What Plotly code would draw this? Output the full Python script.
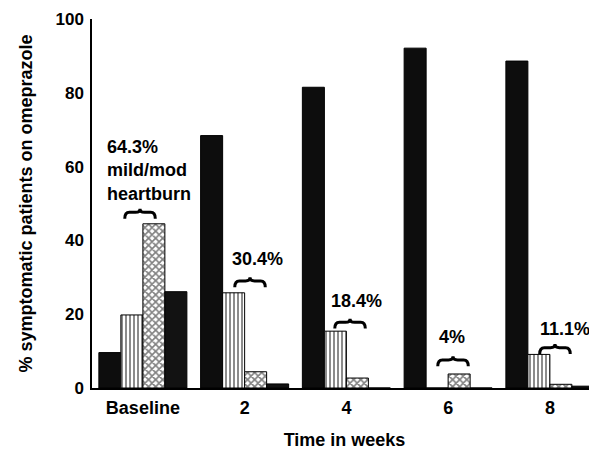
import plotly.graph_objects as go

# ---- data ----
categories = ["Baseline", "2", "4", "6", "8"]
no_heartburn = [9.6, 68.4, 81.5, 92.1, 88.6]
mild = [19.8, 25.8, 15.4, 0.0, 9.1]
moderate = [44.5, 4.4, 2.7, 3.8, 1.0]
severe = [26.1, 1.1, 0.0, 0.0, 0.5]
group_labels = ["64.3%<br>mild/mod<br>heartburn", "30.4%", "18.4%", "4%", "11.1%"]

x_pos = list(range(len(categories)))

FONT = "Liberation Sans, Arial, sans-serif"

fig = go.Figure()
fig.add_trace(go.Bar(x=x_pos, y=no_heartburn, name="none",
                     marker=dict(color="#0d0d0d", line=dict(color="black", width=1))))
fig.add_trace(go.Bar(x=x_pos, y=mild, name="mild",
                     marker=dict(color="white", line=dict(color="black", width=1),
                                 pattern=dict(shape="|", fgcolor="black", bgcolor="white",
                                              size=4, solidity=0.45))))
fig.add_trace(go.Bar(x=x_pos, y=moderate, name="moderate",
                     marker=dict(color="white", line=dict(color="black", width=1),
                                 pattern=dict(shape="x", fgcolor="black", bgcolor="white",
                                              size=5, solidity=0.55))))
fig.add_trace(go.Bar(x=x_pos, y=severe, name="severe",
                     marker=dict(color="#121212", line=dict(color="black", width=1))))

# ---- annotation styling (label placement) ----
label_style = [
    dict(x=-0.372, y=59.0, xanchor="left", align="left"),
    dict(x=1.122, y=35.0, xanchor="center", align="center"),
    dict(x=2.104, y=23.6, xanchor="center", align="center"),
    dict(x=3.038, y=13.9, xanchor="center", align="center"),
    dict(x=4.414, y=16.0, xanchor="right", align="right"),
]
brace_style = [(-0.028, 47.6), (1.053, 29.0), (2.036, 17.8), (3.048, 7.6), (4.05, 10.9)]

for txt, st in zip(group_labels, label_style):
    fig.add_annotation(text=txt, x=st["x"], y=st["y"], xref="x", yref="y",
                       xanchor=st["xanchor"], yanchor="middle", align=st["align"],
                       showarrow=False,
                       font=dict(family=FONT, size=18, color="black", weight="bold"))

bw = 0.30   # brace width (x units)
bh = 1.7    # brace end drop (y units)
bp = 1.0    # brace centre peak (y units)
r = 0.045
for xc, yb in brace_style:
    x0, x1 = xc - bw / 2, xc + bw / 2
    path = (f"M {x0},{yb - bh} Q {x0},{yb} {x0 + r},{yb} L {xc - r},{yb} "
            f"Q {xc},{yb} {xc},{yb + bp} Q {xc},{yb} {xc + r},{yb} "
            f"L {x1 - r},{yb} Q {x1},{yb} {x1},{yb - bh}")
    fig.add_shape(type="path", path=path, xref="x", yref="y",
                  line=dict(color="black", width=3))

# the page body has an 8px margin, so the figure is 8px smaller than the window
fig.update_layout(
    width=589, height=442,
    margin=dict(l=84, r=0, t=11, b=62, autoexpand=False),
    paper_bgcolor="white", plot_bgcolor="white",
    barmode="group", bargap=0.135, bargroupgap=0,
    showlegend=False,
    font=dict(family=FONT, color="black"),
)
fig.update_xaxes(
    range=[-0.5, 4.463], tickvals=x_pos, ticktext=categories,
    showline=True, linecolor="black", linewidth=2, showgrid=False, zeroline=False,
    ticks="", ticklabelstandoff=2, automargin=False,
    tickfont=dict(family=FONT, size=18, color="black", weight="bold"),
    title=dict(text="Time in weeks", standoff=23,
               font=dict(family=FONT, size=18, color="black", weight="bold")),
)
fig.update_yaxes(
    range=[0, 100], tickvals=[0, 20, 40, 60, 80, 100],
    showline=True, linecolor="black", linewidth=1.5, showgrid=False, zeroline=False,
    ticks="", ticklabelstandoff=3, automargin=False,
    tickfont=dict(family=FONT, size=17, color="black", weight="bold"),
    title=dict(text="% symptomatic patients on omeprazole", standoff=18,
               font=dict(family=FONT, size=18, color="black", weight="bold")),
)

fig.write_html("out.html")
